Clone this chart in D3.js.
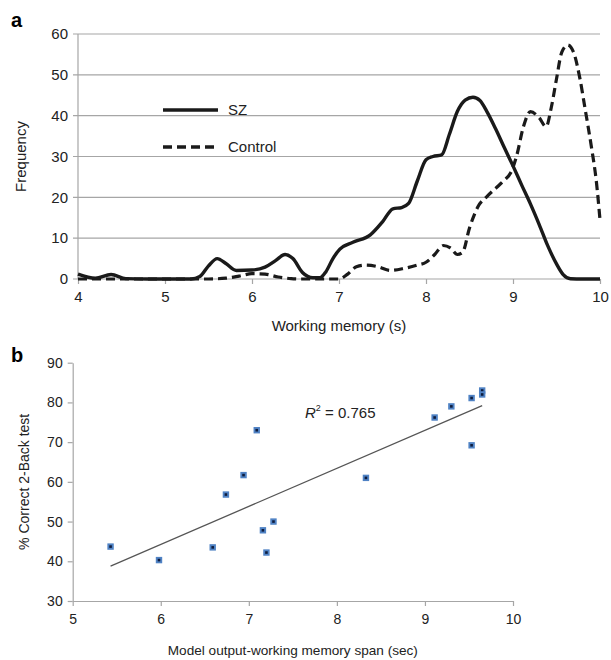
<!DOCTYPE html>
<html>
<head>
<meta charset="utf-8">
<script src="https://cdn.jsdelivr.net/npm/d3@7"></script>
<style>
  body { margin: 0; background: #fff; }
  svg { display: block; font-family: "Liberation Sans", Arial, sans-serif; }
</style>
</head>
<body>
<svg width="611" height="660"></svg>
<script>
// panel a: frequency curves
const szX = [4.0, 4.2, 4.38, 4.55, 4.8, 5.0, 5.3, 5.4, 5.5, 5.6, 5.7, 5.82, 6.0, 6.15, 6.27, 6.38, 6.47, 6.58, 6.7, 6.78, 6.85, 6.93, 7.01, 7.16, 7.36, 7.5, 7.62, 7.72, 7.8, 7.9, 8.0, 8.08, 8.18, 8.27, 8.36, 8.45, 8.54, 8.62, 8.7, 8.8, 8.9, 9.0, 9.1, 9.2, 9.3, 9.4, 9.5, 9.58, 9.66, 9.8, 10.0];
const szY = [1.2, 0.2, 1.1, 0.1, 0, 0, 0, 0.6, 3.2, 5.0, 3.8, 2.1, 2.2, 2.9, 4.5, 6.0, 5.0, 1.6, 0.3, 0.3, 1.8, 5.0, 7.3, 9.0, 10.8, 14, 17.2, 17.5, 18.5, 24, 29.2, 30.0, 30.4, 35.5, 41, 43.8, 44.5, 43.7, 41, 36.8, 32.2, 27.7, 23.0, 18.4, 13.4, 8.1, 3.7, 1.0, 0.05, 0, 0];
const ctlX = [4.0, 5.5, 5.7, 5.85, 6.0, 6.15, 6.3, 6.45, 6.6, 7.0, 7.1, 7.2, 7.3, 7.45, 7.59, 7.75, 7.9, 8.0, 8.1, 8.2, 8.28, 8.36, 8.42, 8.5, 8.6, 8.7, 8.8, 8.9, 8.97, 9.04, 9.12, 9.2, 9.3, 9.38, 9.44, 9.5, 9.56, 9.63, 9.7, 9.77, 9.83, 9.9, 9.96, 10.0];
const ctlY = [0, 0, 0.2, 0.7, 1.3, 1.2, 0.5, 0.1, 0, 0, 1.2, 3.0, 3.4, 3.0, 2.1, 2.6, 3.4, 4.1, 6.0, 8.2, 7.6, 6.0, 6.5, 12.5, 17.8, 20.2, 22.2, 24.2, 25.9, 30, 37.3, 41, 39.5, 37.3, 42, 49, 55.5, 57.3, 55.3, 49, 41.5, 32.5, 23.5, 14.5];
const aXTicks = [4, 5, 6, 7, 8, 9, 10];
const aYTicks = [0, 10, 20, 30, 40, 50, 60];

// panel b: scatter
const spanSec = [5.43, 5.98, 6.59, 6.74, 6.94, 7.09, 7.16, 7.20, 7.28, 8.33, 9.11, 9.30, 9.53, 9.53, 9.65, 9.65];
const correctPct = [43.7, 40.3, 43.5, 56.8, 61.7, 73.0, 47.8, 42.2, 50.0, 61.0, 76.2, 79.0, 81.1, 69.2, 83.0, 82.0];
const bXTicks = [5, 6, 7, 8, 9, 10];
const bYTicks = [30, 40, 50, 60, 70, 80, 90];

const svg = d3.select("svg");
const axisGrey = "#a6a6a6";
const fsA = 15;

// ---------- panel a ----------
const xa = d3.scaleLinear().domain([4, 10]).range([78, 600]);
const ya = d3.scaleLinear().domain([0, 60]).range([279, 34]);
const ga = svg.append("g");

ga.append("g")
  .selectAll("line")
  .data(aYTicks)
  .join("line")
    .attr("x1", 73).attr("x2", 600)
    .attr("y1", d => ya(d)).attr("y2", d => ya(d))
    .attr("stroke", axisGrey).attr("stroke-width", 1.2);

ga.append("line")
  .attr("x1", 78).attr("x2", 78)
  .attr("y1", ya(60)).attr("y2", ya(0))
  .attr("stroke", axisGrey).attr("stroke-width", 1.2);

const axA = ga.append("g")
  .attr("transform", `translate(0,${ya(0)})`)
  .call(d3.axisBottom(xa).tickValues(aXTicks).tickSize(5).tickPadding(7).tickFormat(d3.format("d")));
axA.select(".domain").remove();
axA.selectAll("line").attr("stroke", axisGrey).attr("stroke-width", 1.2);
axA.selectAll("text").attr("font-size", fsA).attr("fill", "#222");

ga.append("g")
  .selectAll("text")
  .data(aYTicks)
  .join("text")
    .attr("x", 68).attr("y", d => ya(d))
    .attr("dy", "0.35em")
    .attr("text-anchor", "end")
    .attr("font-size", fsA).attr("fill", "#222")
    .text(d => d);

const lineA = d3.line()
  .x(d => xa(d[0])).y(d => ya(d[1]))
  .curve(d3.curveMonotoneX);

ga.append("path")
  .datum(d3.zip(ctlX, ctlY))
  .attr("d", lineA)
  .attr("fill", "none").attr("stroke", "#1a1a1a")
  .attr("stroke-width", 3.2).attr("stroke-dasharray", "9,5");

ga.append("path")
  .datum(d3.zip(szX, szY))
  .attr("d", lineA)
  .attr("fill", "none").attr("stroke", "#1a1a1a")
  .attr("stroke-width", 3.4);

// legend
const legend = [{name: "SZ", dash: null, y: 110}, {name: "Control", dash: "9,5", y: 147}];
legend.forEach(l => {
  ga.append("line")
    .attr("x1", 163).attr("x2", 218)
    .attr("y1", l.y).attr("y2", l.y)
    .attr("stroke", "#1a1a1a").attr("stroke-width", 3.4)
    .attr("stroke-dasharray", l.dash);
  ga.append("text")
    .attr("x", 228).attr("y", l.y).attr("dy", "0.35em")
    .attr("font-size", fsA).attr("fill", "#222")
    .text(l.name);
});

ga.append("text")
  .attr("transform", `translate(26,${(ya(0) + ya(60)) / 2}) rotate(-90)`)
  .attr("text-anchor", "middle")
  .attr("font-size", fsA).attr("fill", "#222")
  .text("Frequency");

ga.append("text")
  .attr("x", (xa(4) + xa(10)) / 2).attr("y", 331)
  .attr("text-anchor", "middle")
  .attr("font-size", fsA).attr("fill", "#222")
  .text("Working memory (s)");

svg.append("text")
  .attr("x", 11).attr("y", 27)
  .attr("font-size", 20).attr("font-weight", "bold")
  .text("a");

// ---------- panel b ----------
const xb = d3.scaleLinear().domain([5, 10]).range([72.7, 513]);
const yb = d3.scaleLinear().domain([30, 90]).range([601, 362.7]);
const gb = svg.append("g");

const axBx = gb.append("g")
  .attr("transform", `translate(0,${yb(30)})`)
  .call(d3.axisBottom(xb).tickValues(bXTicks).tickSize(5).tickSizeOuter(0).tickPadding(8).tickFormat(d3.format("d")));
const axBy = gb.append("g")
  .attr("transform", `translate(${xb(5)},0)`)
  .call(d3.axisLeft(yb).tickValues(bYTicks).tickSize(5).tickSizeOuter(0).tickPadding(5));
[axBx, axBy].forEach(ax => {
  ax.select(".domain").attr("stroke", axisGrey).attr("stroke-width", 1.2);
  ax.selectAll("line").attr("stroke", axisGrey).attr("stroke-width", 1.2);
  ax.selectAll("text").attr("font-size", 14).attr("fill", "#222");
});

// least-squares trend
const mx = d3.mean(spanSec), my = d3.mean(correctPct);
const slope = d3.sum(spanSec, (x, i) => (x - mx) * (correctPct[i] - my)) / d3.sum(spanSec, x => (x - mx) ** 2);
const icpt = my - slope * mx;
const [x0, x1] = d3.extent(spanSec);
gb.append("line")
  .attr("x1", xb(x0)).attr("y1", yb(icpt + slope * x0))
  .attr("x2", xb(x1)).attr("y2", yb(icpt + slope * x1))
  .attr("stroke", "#555").attr("stroke-width", 1.3);

const pts = gb.append("g")
  .selectAll("g")
  .data(d3.zip(spanSec, correctPct))
  .join("g")
    .attr("transform", d => `translate(${xb(d[0])},${yb(d[1])})`);
pts.append("rect")
  .attr("x", -3.2).attr("y", -3.2).attr("width", 6.4).attr("height", 6.4)
  .attr("fill", "#4f82c4");
pts.append("rect")
  .attr("x", -1.3).attr("y", -1.3).attr("width", 2.6).attr("height", 2.6)
  .attr("fill", "#0e1c3d");

const r2 = gb.append("text")
  .attr("x", 305).attr("y", 418)
  .attr("font-size", 15).attr("fill", "#222");
r2.append("tspan").attr("font-style", "italic").text("R");
r2.append("tspan").attr("font-size", 9).attr("dy", -7).text("2");
r2.append("tspan").attr("dy", 7).text(" = 0.765");

gb.append("text")
  .attr("transform", `translate(29,${(yb(30) + yb(90)) / 2}) rotate(-90)`)
  .attr("text-anchor", "middle")
  .attr("font-size", 14).attr("fill", "#222")
  .text("% Correct 2-Back test");

gb.append("text")
  .attr("x", (xb(5) + xb(10)) / 2).attr("y", 655)
  .attr("text-anchor", "middle")
  .attr("font-size", 13.6).attr("fill", "#222")
  .text("Model output-working memory span (sec)");

svg.append("text")
  .attr("x", 11).attr("y", 362)
  .attr("font-size", 20).attr("font-weight", "bold")
  .text("b");
</script>
</body>
</html>
